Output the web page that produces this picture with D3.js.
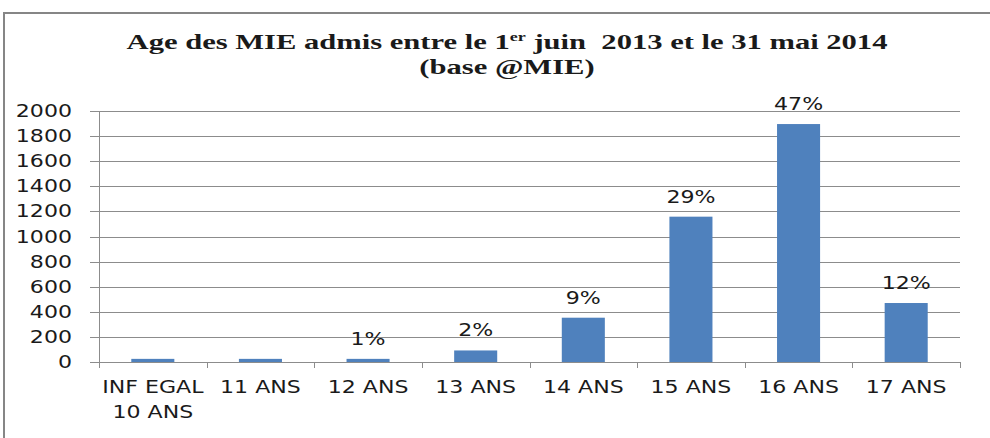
<!DOCTYPE html>
<html>
<head>
<meta charset="utf-8">
<script src="https://cdn.jsdelivr.net/npm/d3@7"></script>
<style>
  body { margin: 0; background: #fff; }
  text { white-space: pre; }
</style>
</head>
<body>
<div id="chart"></div>
<script>
// data
const categories = ["INF EGAL\n10 ANS", "11 ANS", "12 ANS", "13 ANS", "14 ANS", "15 ANS", "16 ANS", "17 ANS"];
const counts = [25, 25, 25, 92, 353, 1158, 1896, 470];
const percentLabels = ["", "", "1%", "2%", "9%", "29%", "47%", "12%"];
const yTicks = [0, 200, 400, 600, 800, 1000, 1200, 1400, 1600, 1800, 2000];

const W = 990, H = 438;
const margin = { top: 111, right: 30, bottom: 76, left: 99 };
const sx = 1.3; // the picture's text is stretched sideways

const svg = d3.select("#chart").append("svg")
  .attr("width", W).attr("height", H);

// outer frame
svg.append("rect")
  .attr("x", 4).attr("y", 13)
  .attr("width", 1100).attr("height", 600)
  .attr("fill", "none").attr("stroke", "#868686").attr("stroke-width", 2);

const x = d3.scaleBand()
  .domain(categories)
  .range([margin.left, W - margin.right])
  .paddingInner(0.6).paddingOuter(0.3);

const y = d3.scaleLinear()
  .domain([0, 2000])
  .range([H - margin.bottom, margin.top]);

// gridlines
svg.append("g")
  .selectAll("line")
  .data(yTicks)
  .join("line")
  .attr("x1", margin.left - 9)
  .attr("x2", W - margin.right)
  .attr("y1", d => Math.round(y(d)) + 0.5)
  .attr("y2", d => Math.round(y(d)) + 0.5)
  .attr("stroke", "#8c8c8c");

// y axis line
svg.append("line")
  .attr("x1", margin.left + 0.5).attr("x2", margin.left + 0.5)
  .attr("y1", y(2000)).attr("y2", y(0) + 6)
  .attr("stroke", "#8c8c8c");

// category tick marks on the boundaries
const bounds = d3.range(categories.length + 1).map(i => margin.left + i * (W - margin.right - margin.left) / categories.length);
svg.append("g")
  .selectAll("line")
  .data(bounds)
  .join("line")
  .attr("x1", d => Math.round(d) + 0.5)
  .attr("x2", d => Math.round(d) + 0.5)
  .attr("y1", y(0)).attr("y2", y(0) + 6)
  .attr("stroke", "#8c8c8c");

// y tick labels
svg.append("g")
  .selectAll("text")
  .data(yTicks)
  .join("text")
  .attr("transform", d => `translate(72,${y(d) + 6}) scale(${sx},1)`)
  .attr("text-anchor", "end")
  .attr("font-family", "DejaVu Sans")
  .attr("font-size", 17)
  .attr("fill", "#1a1a1a")
  .text(d => d);

// bars
svg.append("g")
  .selectAll("rect")
  .data(counts)
  .join("rect")
  .attr("x", (d, i) => x(categories[i]))
  .attr("width", x.bandwidth())
  .attr("y", d => y(d))
  .attr("height", d => y(0) - y(d))
  .attr("fill", "#4f81bd");

// percent labels
svg.append("g")
  .selectAll("text")
  .data(percentLabels)
  .join("text")
  .attr("transform", (d, i) => `translate(${x(categories[i]) + x.bandwidth() / 2},${y(counts[i]) - 14}) scale(${sx},1)`)
  .attr("text-anchor", "middle")
  .attr("font-family", "DejaVu Sans")
  .attr("font-size", 17)
  .attr("fill", "#1a1a1a")
  .text(d => d);

// category labels
const cat = svg.append("g")
  .selectAll("text")
  .data(categories)
  .join("text")
  .attr("transform", d => `translate(${x(d) + x.bandwidth() / 2},${y(0) + 31}) scale(${sx},1)`)
  .attr("text-anchor", "middle")
  .attr("font-family", "DejaVu Sans")
  .attr("font-size", 17)
  .attr("fill", "#1a1a1a");
cat.selectAll("tspan")
  .data(d => d.split("\n"))
  .join("tspan")
  .attr("x", 0)
  .attr("dy", (d, i) => i === 0 ? 0 : 25)
  .text(d => d);

// title
const title = svg.append("text")
  .attr("transform", `translate(507,49) scale(1.39,1)`)
  .attr("text-anchor", "middle")
  .attr("font-family", "Liberation Serif")
  .attr("font-weight", "bold")
  .attr("font-size", 22)
  .attr("fill", "#1a1a1a");
title.append("tspan").text("Age des MIE admis entre le 1");
title.append("tspan").attr("font-size", 13).attr("dy", -8).text("er");
title.append("tspan").attr("dy", 8).text(" juin  2013 et le 31 mai 2014");

svg.append("text")
  .attr("transform", `translate(507,74) scale(1.39,1)`)
  .attr("text-anchor", "middle")
  .attr("font-family", "Liberation Serif")
  .attr("font-weight", "bold")
  .attr("font-size", 22)
  .attr("fill", "#1a1a1a")
  .text("(base @MIE)");
</script>
</body>
</html>
